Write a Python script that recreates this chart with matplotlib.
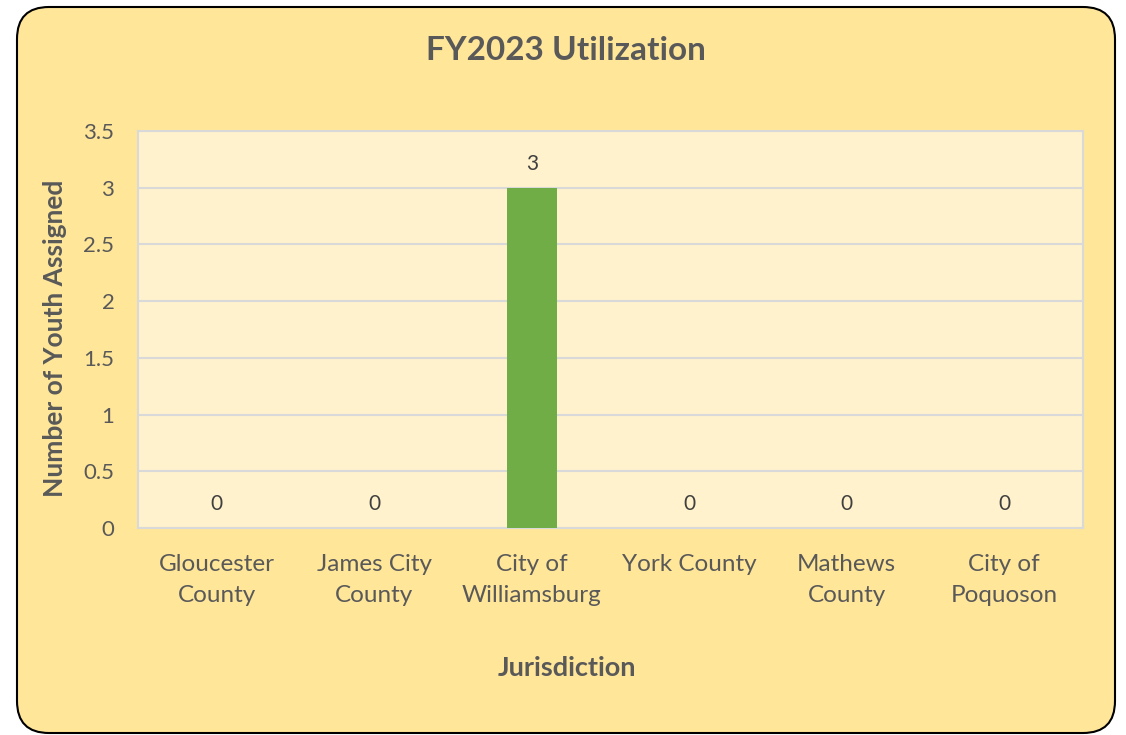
import matplotlib
matplotlib.use("Agg")
import matplotlib.pyplot as plt
from matplotlib.patches import FancyBboxPatch
from matplotlib.transforms import IdentityTransform

categories = ["Gloucester\nCounty", "James City\nCounty", "City of\nWilliamsburg",
              "York County", "Mathews\nCounty", "City of\nPoquoson"]
values = [0, 0, 3, 0, 0, 0]
yticks = [0, 0.5, 1, 1.5, 2, 2.5, 3, 3.5]
ytick_labels = ["0", "0.5", "1", "1.5", "2", "2.5", "3", "3.5"]

TEXT = "#595959"
plt.rcParams['font.family'] = ['Lato', 'DejaVu Sans']

W, H = 1126, 735
dpi = 100
fig = plt.figure(figsize=(W / dpi, H / dpi), dpi=dpi, facecolor="white")

box = FancyBboxPatch((17, H - 733), 1115 - 17, 733 - 7,
                     boxstyle="round,pad=0,rounding_size=32",
                     transform=IdentityTransform(), facecolor="#FFE699",
                     edgecolor="black", linewidth=1.5, zorder=-10)
fig.patches.append(box)

ax = fig.add_axes([138 / W, 1 - 528 / H, (1083 - 138) / W, (528 - 131) / H])
ax.set_zorder(5)
ax.set_facecolor("#FFF2CC")
x = list(range(len(categories)))
bars = ax.bar(x, values, width=0.32, color="#70AD47", zorder=3)
ax.set_xlim(-0.5, len(categories) - 0.5)
ax.set_ylim(0, 3.5)
ax.set_yticks(yticks)
ax.set_yticklabels(ytick_labels)
ax.set_xticks(x)
ax.set_xticklabels(categories, linespacing=1.55)
ax.tick_params(axis="y", length=0, labelsize=16, labelcolor=TEXT, pad=17)
ax.tick_params(axis="x", length=0, labelsize=17.5, labelcolor=TEXT, pad=19)
ax.grid(axis="y", color="#D9D9D9", linewidth=1.5, zorder=1)
ax.set_axisbelow(True)
for s in ax.spines.values():
    s.set_color("#D9D9D9")
    s.set_linewidth(1.5)

for xi, v in zip(x, values):
    ax.annotate(str(v), (xi, v), xytext=(0, 17), textcoords="offset points",
                ha="center", va="center", fontsize=15, color="#404040")

ax.set_xlabel("Jurisdiction", fontsize=19.5, fontweight="bold", color=TEXT,
              va="center", ha="center")
ax.xaxis.set_label_coords((567 - 138) / 945, (528 - 668) / 397)
ax.set_ylabel("Number of Youth Assigned", fontsize=19, fontweight="bold", color=TEXT,
              va="center", ha="center")
ax.yaxis.set_label_coords((55 - 138) / 945, (528 - 338) / 397)

fig.text(566 / W, 1 - 51 / H, "FY2023 Utilization", ha="center", va="center",
         fontsize=24, fontweight="bold", color=TEXT)

fig.savefig("out.png", dpi=dpi, facecolor="white")
